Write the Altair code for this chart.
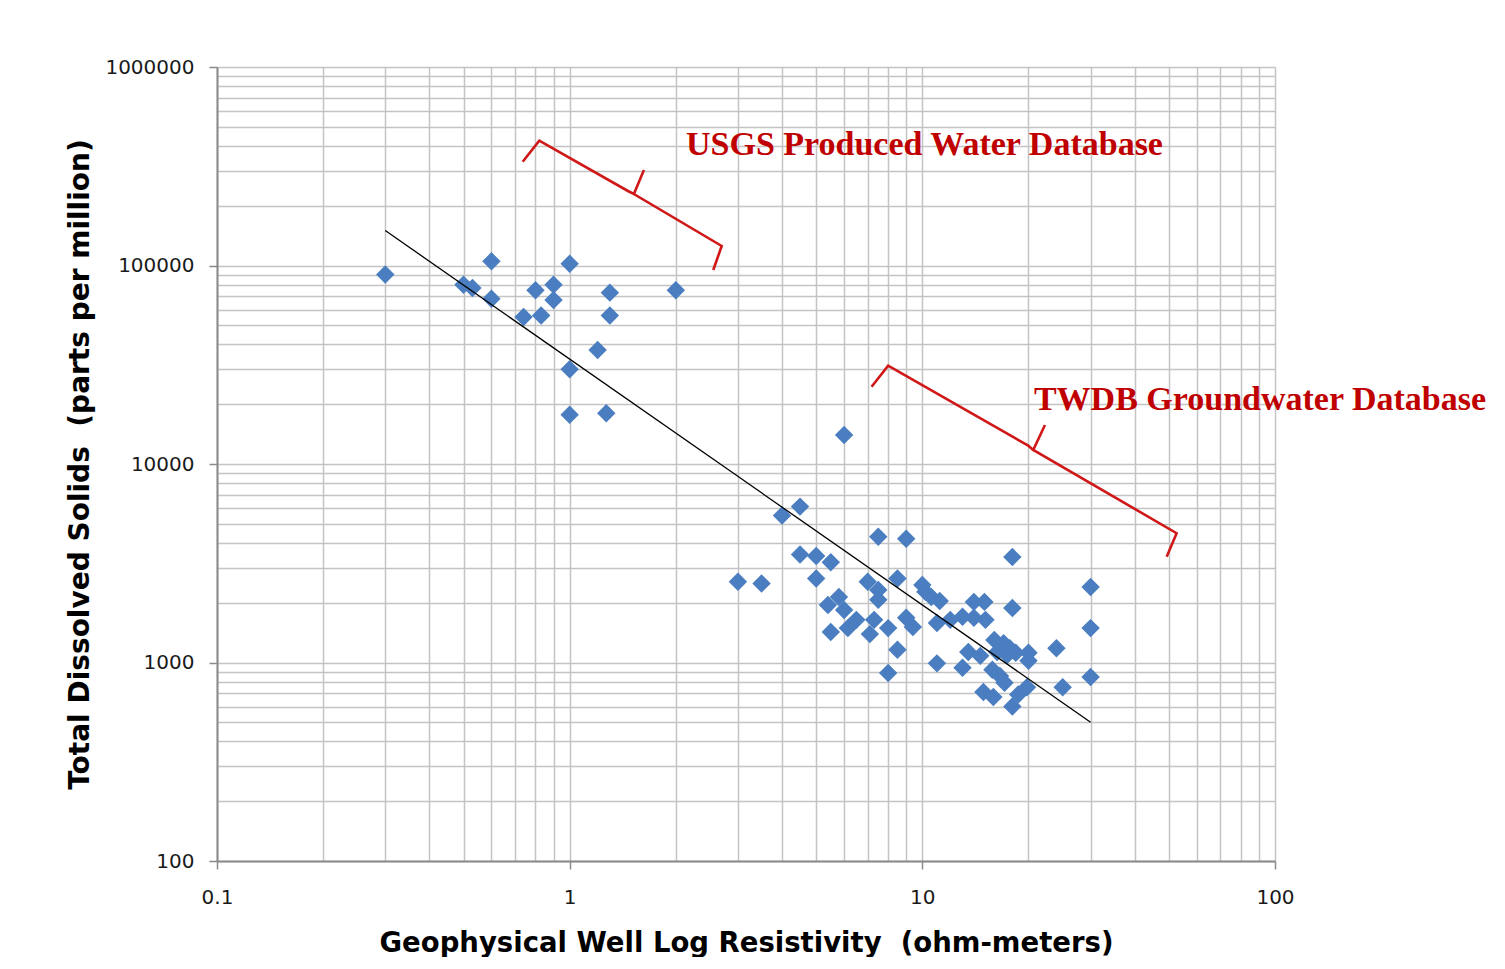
import altair as alt
import pandas as pd

# ---- data ----
usgs_res = [0.3, 0.5, 0.53, 0.6, 0.6, 0.74, 0.8, 0.83, 0.9, 0.9, 1.0, 1.2, 1.0, 1.0, 1.27, 1.3, 1.3, 2.0]
usgs_tds = [90000, 80000, 77000, 68000, 105000, 55000, 75000, 56000, 80000, 67000, 102000, 37500, 30000, 17700, 18000, 73000, 56000, 75000]

twdb_res = [6.0, 4.5, 4.0, 7.5, 9.0, 3.0, 3.5, 4.5, 5.0, 5.5, 5.0, 7.0, 7.5, 7.5, 8.5,
            5.8, 5.4, 6.0, 6.5, 7.3, 8.0, 5.5, 6.15, 7.1, 18, 30, 10, 10.2, 10.6, 11.2,
            14, 15, 18, 9.0, 9.4, 11.0, 12.0, 13.0, 14, 15.1, 30, 8.5, 8.0, 11.0, 13.0,
            13.5, 14.6, 16, 17, 17.7, 16.3, 17.4, 18.4, 20, 20, 24, 15.8, 16.6, 17.1, 14.9,
            15.9, 18.7, 19.8, 18, 25, 30]
twdb_tds = [14000, 6100, 5500, 4300, 4200, 2550, 2500, 3500, 3440, 3200, 2650, 2550, 2320, 2070, 2650,
            2140, 1950, 1840, 1640, 1640, 1490, 1425, 1490, 1390, 3400, 2400, 2460, 2270, 2140, 2040,
            2020, 2020, 1880, 1680, 1510, 1580, 1640, 1700, 1680, 1640, 1490, 1160, 885, 990, 940,
            1130, 1080, 1300, 1250, 1180, 1130, 1090, 1120, 1120, 1020, 1180, 920, 855, 790, 710,
            670, 690, 750, 600, 750, 845]

trend_res = [0.3, 30]
trend_tds = [150000, 500]

usgs_bracket_res = [0.736, 0.82, 1.463, 1.521, 1.624, 1.521, 2.698, 2.554]
usgs_bracket_tds = [333400, 425300, 237300, 229200, 302800, 229200, 125400, 94900]
twdb_bracket_res = [7.18, 8.0, 19.97, 20.63, 22.27, 20.63, 52.6, 49.3]
twdb_bracket_tds = [24500, 31300, 12370, 11770, 15720, 11770, 4480, 3410]

label_texts = ["USGS Produced Water Database", "TWDB Groundwater Database"]
label_res = [2.137, 20.72]
label_tds = [404600, 21010]

x_tick_values = [0.1, 0.2, 0.3, 0.4, 0.5, 0.6, 0.7, 0.8, 0.9,
                 1, 2, 3, 4, 5, 6, 7, 8, 9,
                 10, 20, 30, 40, 50, 60, 70, 80, 90, 100]
y_tick_values = [100, 200, 300, 400, 500, 600, 700, 800, 900,
                 1000, 2000, 3000, 4000, 5000, 6000, 7000, 8000, 9000,
                 10000, 20000, 30000, 40000, 50000, 60000, 70000, 80000, 90000,
                 100000, 200000, 300000, 400000, 500000, 600000, 700000, 800000, 900000,
                 1000000]

x_title = "Geophysical Well Log Resistivity \u00a0(ohm-meters)"
y_title = "Total Dissolved Solids \u00a0(parts per million)"

# ---- tables ----
points = pd.DataFrame({"res": usgs_res + twdb_res, "tds": usgs_tds + twdb_tds})
trend = pd.DataFrame({"res": trend_res, "tds": trend_tds})
brackets = pd.DataFrame({
    "res": usgs_bracket_res + twdb_bracket_res,
    "tds": usgs_bracket_tds + twdb_bracket_tds,
    "grp": ["usgs"] * len(usgs_bracket_res) + ["twdb"] * len(twdb_bracket_res),
    "ord": list(range(len(usgs_bracket_res))) + list(range(len(twdb_bracket_res))),
})
labels = pd.DataFrame({"res": label_res, "tds": label_tds, "txt": label_texts})

MAJOR = "abs(log(datum.value)/LN10 - round(log(datum.value)/LN10)) < 0.001"
GRID = "#c4c4c4"
AXISC = "#8a8a8a"

x_axis = alt.Axis(
    values=x_tick_values, grid=True, gridColor=GRID, gridWidth=1.5,
    domainColor=AXISC, domainWidth=2,
    tickColor={"condition": {"test": MAJOR, "value": AXISC}, "value": "transparent"},
    tickSize=8, tickWidth=1.5,
    labelExpr=f"{MAJOR} ? format(datum.value, '~g') : ''",
    labelFont="DejaVu Sans", labelFontSize=20, labelColor="#1a1a1a",
    labelPadding=18, labelFlush=False, labelOverlap=False,
    title=x_title,
    titleFont="DejaVu Sans", titleFontSize=27.5, titleFontWeight="bold",
    titleColor="black", titlePadding=22,
)
y_axis = alt.Axis(
    values=y_tick_values, grid=True, gridColor=GRID, gridWidth=1.5,
    domainColor=AXISC, domainWidth=2,
    tickColor={"condition": {"test": MAJOR, "value": AXISC}, "value": "transparent"},
    tickSize=8, tickWidth=1.5,
    labelExpr=f"{MAJOR} ? format(datum.value, 'd') : ''",
    labelFont="DejaVu Sans", labelFontSize=20, labelColor="#1a1a1a",
    labelPadding=15, labelFlush=False, labelOverlap=False,
    title=y_title,
    titleFont="DejaVu Sans", titleFontSize=28, titleFontWeight="bold",
    titleColor="black", titlePadding=10,
)

xs = alt.Scale(type="log", domain=[0.1, 100], nice=False)
ys = alt.Scale(type="log", domain=[100, 1000000], nice=False)

base_pts = alt.Chart(points).mark_point(
    shape="diamond", filled=True, size=340, color="#4a7ec0", opacity=1
).encode(
    x=alt.X("res:Q", scale=xs, axis=x_axis),
    y=alt.Y("tds:Q", scale=ys, axis=y_axis),
)

trend_line = alt.Chart(trend).mark_line(color="black", strokeWidth=1.3).encode(
    x=alt.X("res:Q", scale=xs), y=alt.Y("tds:Q", scale=ys)
)

bracket_lines = alt.Chart(brackets).mark_line(
    color="#d01818", strokeWidth=2.6, strokeJoin="miter"
).encode(
    x=alt.X("res:Q", scale=xs), y=alt.Y("tds:Q", scale=ys),
    detail="grp:N", order="ord:Q",
)

label_marks = alt.Chart(labels).mark_text(
    align="left", baseline="middle", font="Liberation Serif", fontWeight="bold",
    fontSize=34, color="#c00000",
).encode(
    x=alt.X("res:Q", scale=xs), y=alt.Y("tds:Q", scale=ys), text="txt:N"
)

chart = alt.layer(base_pts, trend_line, bracket_lines, label_marks).properties(
    width=1058, height=794,
    autosize=alt.AutoSizeParams(type="none"),
    padding={"left": 209, "top": 59, "right": 216, "bottom": 96},
    background="white",
).configure_view(stroke=None)

chart.save("out.html", embed_options={"renderer": "svg", "actions": False})
